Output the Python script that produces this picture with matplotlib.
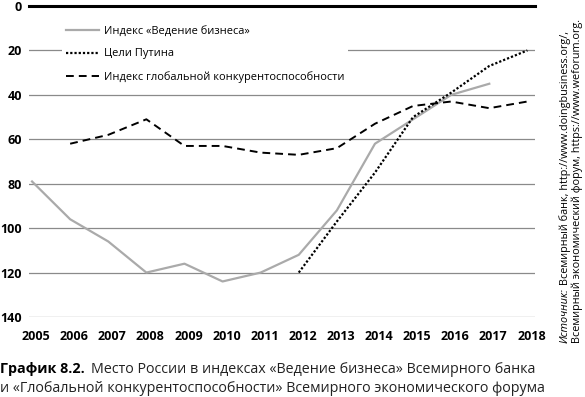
import matplotlib
matplotlib.use("Agg")
import matplotlib.pyplot as plt
import matplotlib.transforms as mtransforms
import numpy as np

plt.rcParams['font.family'] = ['Open Sans', 'DejaVu Sans']

years = list(range(2005, 2019))
doing_business = [79, 96, 106, 120, 116, 124, 120, 112, 92, 62, 51, 40, 35, np.nan]
putin_goals = [np.nan] * 7 + [120, 97, 75, 50, 39, 27, 20]
gci = [np.nan, 62, 58, 51, 63, 63, 66, 67, 64, 53, 45, 43, 46, 43]
y_ticks = [0, 20, 40, 60, 80, 100, 120, 140]

labels = ['Индекс «Ведение бизнеса»', 'Цели Путина',
          'Индекс глобальной конкурентоспособности']

W, H = 585, 397
fig = plt.figure(figsize=(W / 100, H / 100), dpi=100)
ax = fig.add_axes([29 / W, 1 - 317 / H, (535 - 29) / W, (317 - 6) / H])

ax.plot(years, doing_business, color='#aaaaaa', lw=1.6, label=labels[0])
ax.plot(years, putin_goals, color='black', lw=1.6, ls=(0, (1, 0.9)), label=labels[1])
ax.plot(years, gci, color='black', lw=1.4, ls=(0, (4, 2.6)), label=labels[2])

ax.set_xlim(2004.92, 2018.2)
ax.set_ylim(140, 0)
ax.set_yticks(y_ticks)
ax.set_xticks(years)
for s in ax.spines.values():
    s.set_visible(False)
for v in y_ticks[1:]:
    ax.axhline(v, color='#8a8a8a', lw=0.9, zorder=0)
ax.axhline(0, color='black', lw=2.2, zorder=0, clip_on=False)

ax.tick_params(length=0)
ax.tick_params(axis='y', pad=5)
ax.tick_params(axis='x', pad=9)
for t in ax.get_xticklabels() + ax.get_yticklabels():
    t.set_fontweight('bold')
    t.set_fontsize(9)
shift = mtransforms.ScaledTranslation(4 / 100, 0, fig.dpi_scale_trans)
for t in ax.get_xticklabels():
    t.set_transform(t.get_transform() + shift)

leg = ax.legend(loc='upper left', bbox_to_anchor=(0.065, 0.95), borderaxespad=0,
                borderpad=0.4, fontsize=7.9, handlelength=3.0, handletextpad=0.4,
                labelspacing=1.05, frameon=True, fancybox=False)
leg.get_frame().set_facecolor('white')
leg.get_frame().set_edgecolor('none')
leg.get_frame().set_alpha(1)

# подпись снизу
cap1 = fig.text(0 / W, 1 - 373 / H, 'График 8.2.', fontsize=10.3, fontweight='bold',
                va='baseline', ha='left')
fig.canvas.draw()
r = fig.canvas.get_renderer()
bb = cap1.get_window_extent(r)
fig.text((bb.x1 + 6) / W, 1 - 373 / H, 'Место России в индексах «Ведение бизнеса» Всемирного банка',
         fontsize=10.3, color='#222222', va='baseline', ha='left')
fig.text(0 / W, 1 - 392 / H, 'и «Глобальной конкурентоспособности» Всемирного экономического форума',
         fontsize=10.3, color='#222222', va='baseline', ha='left')

# источник справа
src1 = fig.text(565 / W, 1 - 343 / H, 'Источник:', fontsize=7.8, style='italic',
                rotation=90, ha='center', va='bottom')
fig.canvas.draw()
bb = src1.get_window_extent(r)
fig.text(565 / W, (bb.y1 + 3) / H, 'Всемирный банк, http://www.doingbusiness.org/,', fontsize=7.8,
         rotation=90, ha='center', va='bottom')
fig.text(577 / W, 1 - 343 / H, 'Всемирный экономический форум, https://www.weforum.org.',
         fontsize=7.8, rotation=90, ha='center', va='bottom')

fig.savefig('out.png', dpi=100)
